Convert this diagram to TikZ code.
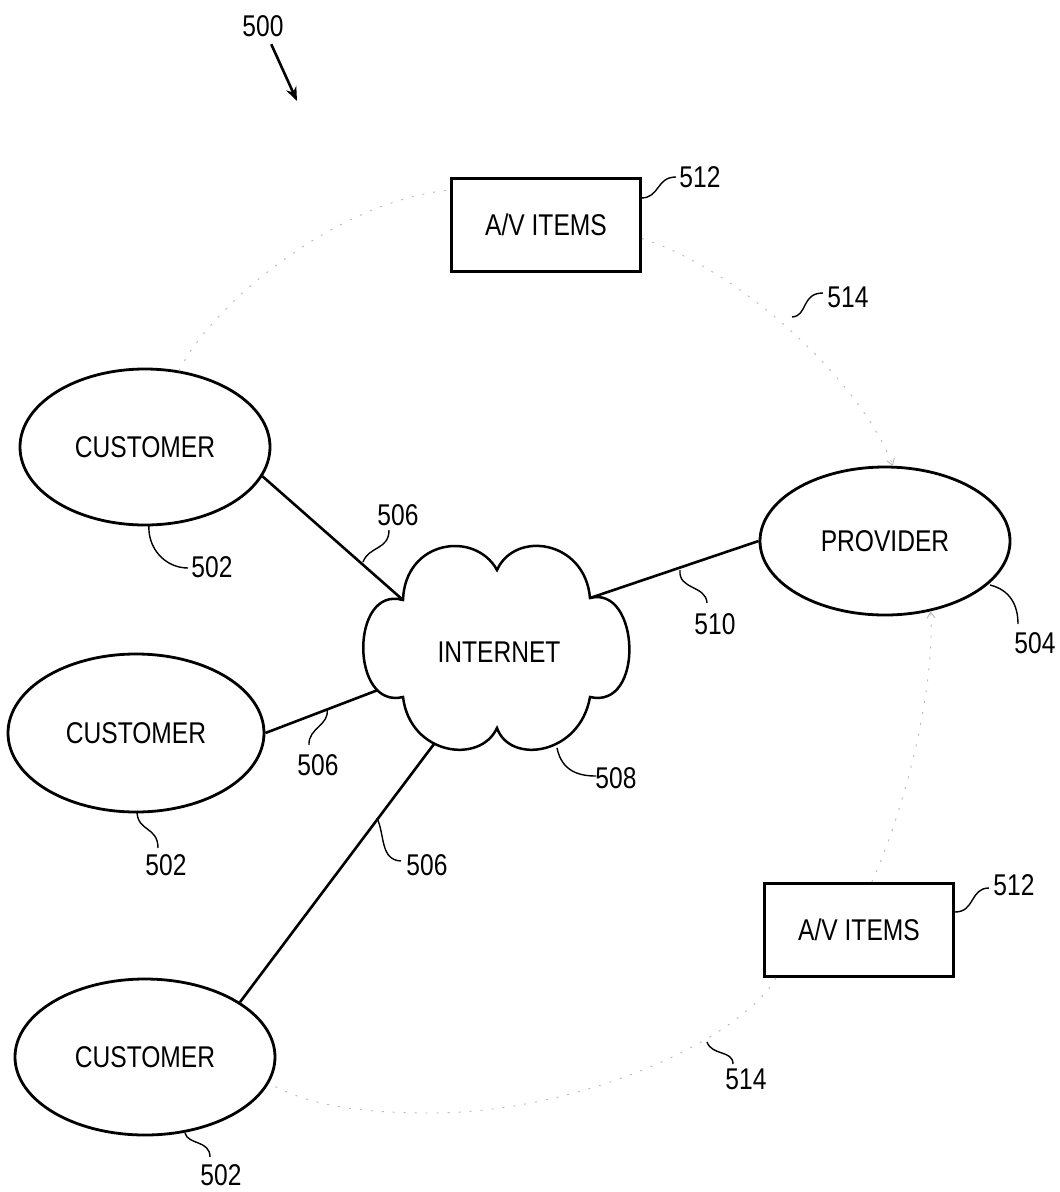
\documentclass[tikz,border=0pt]{standalone}
\usepackage{fontspec}
\setmainfont[FakeStretch=0.82]{Liberation Sans}
\usetikzlibrary{shapes.geometric,arrows.meta}
\begin{document}
\begin{tikzpicture}[x=1pt,y=-1pt,
  every node/.style={font=\fontsize{30}{34}\selectfont},
  ell/.style={ellipse,draw,line width=2.8pt,inner sep=0pt},
  boxn/.style={rectangle,draw,line width=2.8pt,minimum width=189pt,minimum height=93pt,inner sep=0pt},
  lbl/.style={inner sep=1pt},
  conn/.style={line width=2.6pt},
  lead/.style={line width=1.4pt},
  flow/.style={draw=gray!55,line width=0.9pt,dash pattern=on 2pt off 9pt},
  flowtip/.style={-{Straight Barb[length=6pt,width=8pt]}},
]
\fill[white] (0,0) rectangle (1060,1192);
\useasboundingbox (0,0) rectangle (1060,1192);

% main nodes
\node[ell,minimum width=250pt,minimum height=156pt] (cust1) at (145,447) {CUSTOMER};
\node[ell,minimum width=256pt,minimum height=158pt] (cust2) at (136,733) {CUSTOMER};
\node[ell,minimum width=260pt,minimum height=156pt] (cust3) at (145,1057) {CUSTOMER};
\node[ell,minimum width=250pt,minimum height=148pt] (prov) at (885,541) {PROVIDER};
\node[boxn] (av1) at (546,225) {A/V ITEMS};
\node[boxn] (av2) at (859,930) {A/V ITEMS};

% cloud
\coordinate (cA) at (403,600);
\coordinate (cB) at (497,570);
\coordinate (cC) at (590,598);
\coordinate (cD) at (590,697);
\coordinate (cE) at (497,728);
\coordinate (cF) at (403,697);
\coordinate (cL) at (378,690);
\coordinate (cBL) at (434,744);
\draw[line width=2.5pt,fill=white]
  (cA) .. controls (405,540) and (475,530) .. (cB)
       .. controls (515,530) and (585,540) .. (cC)
       .. controls (640,585) and (645,710) .. (cD)
       .. controls (580,755) and (510,765) .. (cE)
       .. controls (480,765) and (410,755) .. (cF)
       .. controls (350,710) and (350,585) .. (cA) -- cycle;
\node (inet) at (499,652) {INTERNET};

% connections
\draw[conn] (cust1.-14) -- (cA);
\draw[conn] (cust2.east) -- (cL);
\draw[conn] (cust3.30) -- (cBL);
\draw[conn] (cC) -- (prov.west);

% faint flow loop
\draw[flow] (cust1.66) .. controls (215,300) and (340,200) .. (av1.160);
\draw[flow,flowtip] (av1.-8) .. controls (740,270) and (860,380) .. (prov.84);
\draw[flow,flowtip] (av2.75) .. controls (900,820) and (935,700) .. (prov.-57);
\draw[flow] (av2.-150) .. controls (740,1040) and (580,1113) .. (430,1113)
   .. controls (340,1113) and (300,1100) .. (cust3.-12);

% figure number
\node[lbl] (l500) at (263,26) {500};
\coordinate (a500) at (297,101);
\draw[line width=2.6pt,-{Stealth[length=14pt,width=11pt]},shorten <=7pt] (l500) -- (a500);

% labels
\node[lbl] (l512a) at (700,177) {512};
\node[lbl] (l514a) at (848,297) {514};
\node[lbl] (l506a) at (398,515) {506};
\node[lbl] (l502a) at (212,567) {502};
\node[lbl] (l510) at (715,624) {510};
\node[lbl] (l504) at (1035,643) {504};
\node[lbl] (l506b) at (318,765) {506};
\node[lbl] (l508) at (616,778) {508};
\node[lbl] (l502b) at (166,865) {502};
\node[lbl] (l506c) at (427,865) {506};
\node[lbl] (l512b) at (1014,885) {512};
\node[lbl] (l514b) at (746,1079) {514};
\node[lbl] (l502c) at (221,1175) {502};

% leader lines
\coordinate (s512a) at (641,198);  \coordinate (e512a) at (676,177);
\coordinate (s514a) at (792,317);  \coordinate (e514a) at (823,293);
\coordinate (s506a) at (363,562);  \coordinate (e506a) at (389,530);
\coordinate (s502a) at (149,524);  \coordinate (e502a) at (188,568);
\coordinate (s510) at (680,570);   \coordinate (e510) at (707,603);
\coordinate (s504) at (990,585);   \coordinate (e504) at (1018,624);
\coordinate (s506b) at (327,709);  \coordinate (e506b) at (309,745);
\coordinate (s508) at (557,748);   \coordinate (e508) at (596,776);
\coordinate (s502b) at (137,811);  \coordinate (e502b) at (158,848);
\coordinate (s506c) at (377,818);  \coordinate (e506c) at (401,861);
\coordinate (s512b) at (955,912);  \coordinate (e512b) at (989,888);
\coordinate (s514b) at (707,1042); \coordinate (e514b) at (733,1064);
\coordinate (s502c) at (185,1133); \coordinate (e502c) at (210,1157);

\draw[lead] (s512a) .. controls (660,198) and (656,177) .. (e512a);
\draw[lead] (s514a) .. controls (808,316) and (801,293) .. (e514a);
\draw[lead] (s506a) .. controls (369,546) and (389,550) .. (e506a);
\draw[lead] (s502a) .. controls (147,548) and (165,568) .. (e502a);
\draw[lead] (s510) .. controls (678,590) and (706,585) .. (e510);
\draw[lead] (s504) .. controls (1010,590) and (1018,605) .. (e504);
\draw[lead] (s506b) .. controls (330,725) and (308,728) .. (e506b);
\draw[lead] (s508) .. controls (562,772) and (580,776) .. (e508);
\draw[lead] (s502b) .. controls (137,832) and (158,826) .. (e502b);
\draw[lead] (s506c) .. controls (385,835) and (380,860) .. (e506c);
\draw[lead] (s512b) .. controls (975,912) and (970,888) .. (e512b);
\draw[lead] (s514b) .. controls (712,1056) and (733,1050) .. (e514b);
\draw[lead] (s502c) .. controls (188,1145) and (210,1140) .. (e502c);
\end{tikzpicture}
\end{document}
